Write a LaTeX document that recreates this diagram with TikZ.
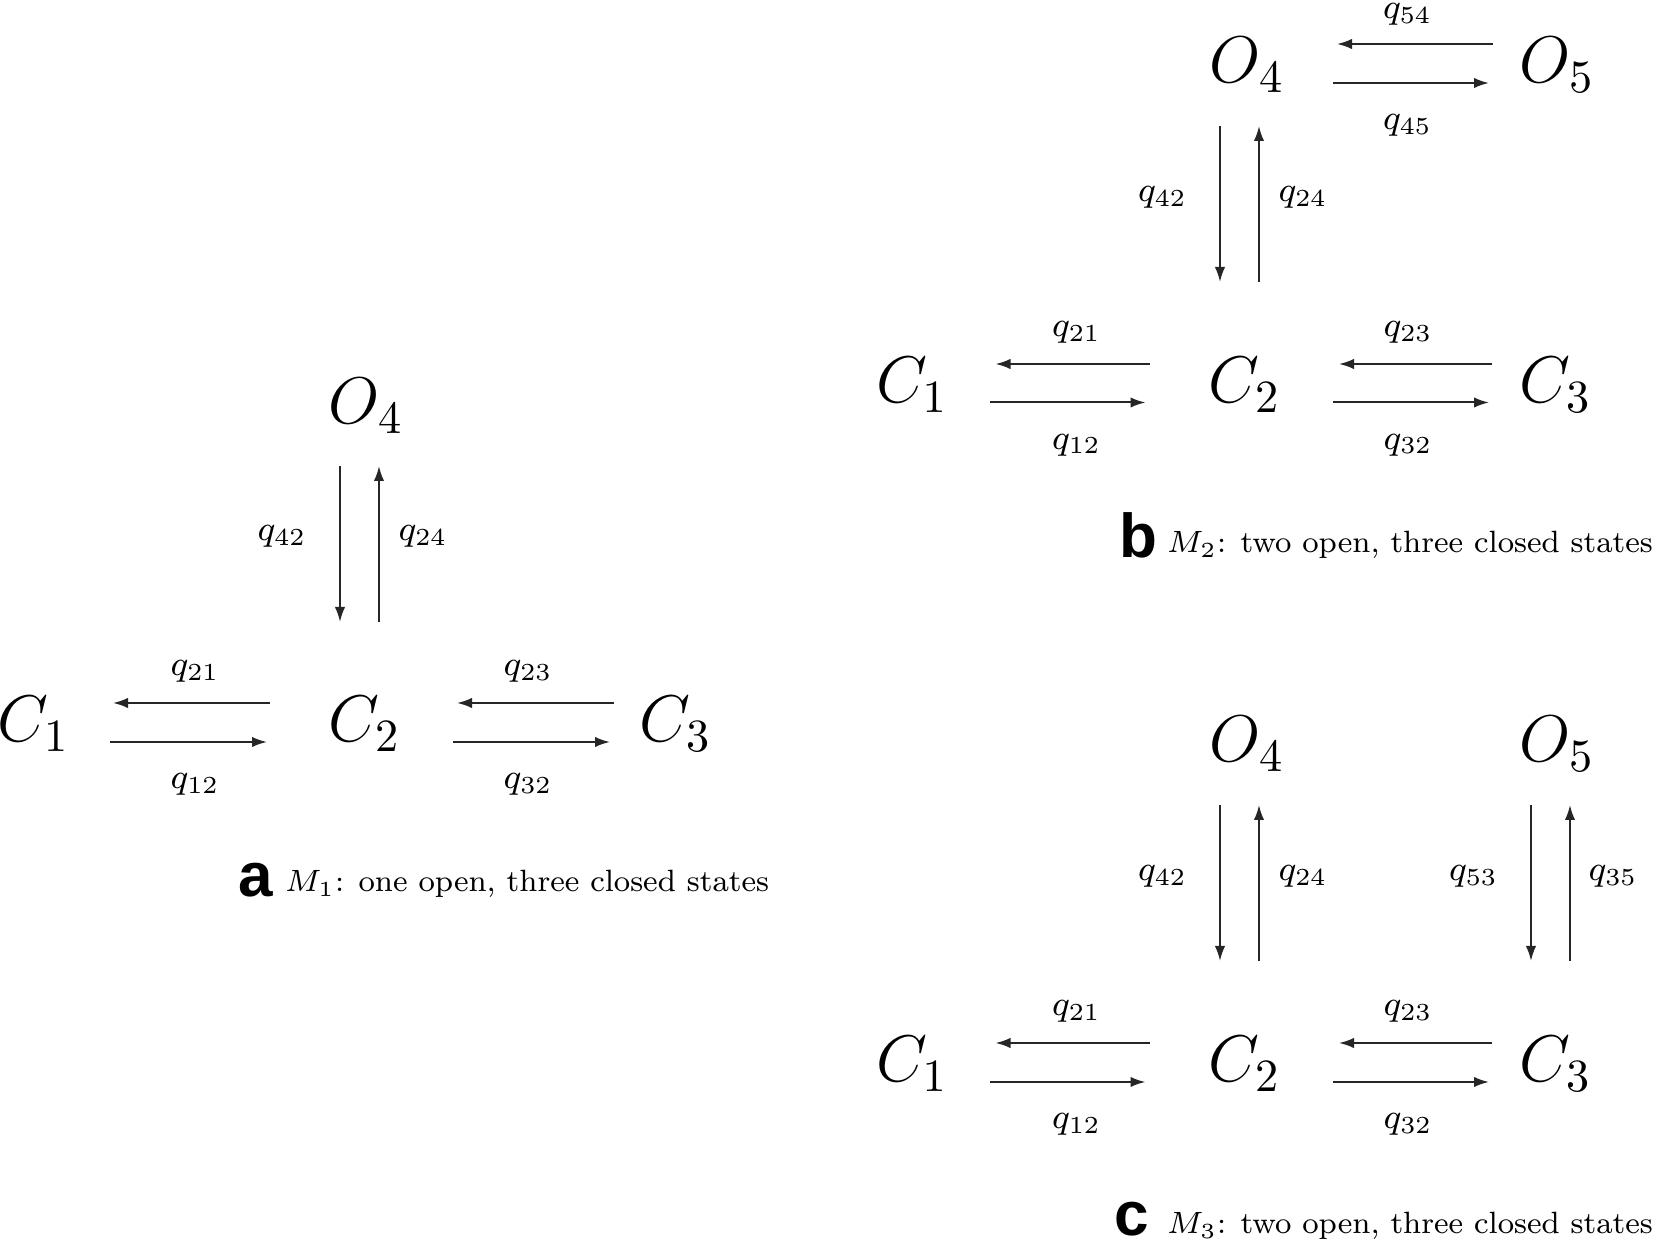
\RequirePackage{fix-cm}
\documentclass[tikz,border=0pt]{standalone}
\usepackage{fontspec}
\newfontfamily\labfont{Liberation Sans}
\usetikzlibrary{arrows.meta}
\tikzset{
  state/.style={anchor=base west, inner sep=0pt, font=\fontsize{16.5}{20}\selectfont},
  rate/.style={anchor=base, inner sep=0pt, font=\fontsize{8.75}{10}\selectfont},
  captext/.style={anchor=base west, inner sep=0pt, font=\fontsize{7.7}{10}\selectfont},
  panellab/.style={anchor=base west, inner sep=0pt, font=\labfont\bfseries\fontsize{15.5}{18}\selectfont},
  arr/.style={-{Latex[length=3.75pt,width=2.6pt]}, line width=0.5pt, draw=black!85}
}
\newcommand\tarrow[5]{% name, x1, y1, x2, y2
  \coordinate (#1s) at (#2,#3); \coordinate (#1e) at (#4,#5);
  \draw[arr] (#1s) -- (#1e);}
\begin{document}
\begin{tikzpicture}[x=0.25pt,y=-0.25pt]
\fill[white] (0,0) rectangle (1654,1251);
\useasboundingbox (0,0) rectangle (1654,1251);
% ---------- panel a ----------
\node[state] (aO4) at (328,424) {$O_4$};
\node[state] (aC1) at (-3,742) {$C_1$};
\node[state] (aC2) at (328,742) {$C_2$};
\node[state] (aC3) at (639,742) {$C_3$};
\tarrow{aq42}{340}{466}{340}{622}
\tarrow{aq24}{379}{622}{379}{466}
\tarrow{aq21}{270}{703}{113}{703}
\tarrow{aq12}{110}{742}{267}{742}
\tarrow{aq23}{614}{703}{457}{703}
\tarrow{aq32}{453}{742}{610}{742}
\node[rate] (alq42) at (282,541) {$q_{42}$};
\node[rate] (alq24) at (423,541) {$q_{24}$};
\node[rate] (alq21) at (195,676) {$q_{21}$};
\node[rate] (alq12) at (195,789) {$q_{12}$};
\node[rate] (alq23) at (528,676) {$q_{23}$};
\node[rate] (alq32) at (528,789) {$q_{32}$};
\node[panellab] (alab) at (238,897) {a};
\node[captext] (acap) at (284,892) {$M_1$: one open, three closed states};
% ---------- panel b ----------
\node[state] (bO4) at (1209,83) {$O_4$};
\node[state] (bO5) at (1519,83) {$O_5$};
\node[state] (bC1) at (875.5,402.5) {$C_1$};
\node[state] (bC2) at (1208,402.5) {$C_2$};
\node[state] (bC3) at (1519,402.5) {$C_3$};
\tarrow{bq54}{1493}{44}{1337}{44}
\tarrow{bq45}{1333}{83}{1489}{83}
\tarrow{bq42}{1220}{126}{1220}{282}
\tarrow{bq24}{1259}{282}{1259}{126}
\tarrow{bq21}{1150}{364}{995.5}{364}
\tarrow{bq12}{990}{402.5}{1145.5}{402.5}
\tarrow{bq23}{1492}{364}{1339}{364}
\tarrow{bq32}{1333}{402.5}{1489}{402.5}
\node[rate] (blq54) at (1407.5,19) {$q_{54}$};
\node[rate] (blq45) at (1407.5,130) {$q_{45}$};
\node[rate] (blq42) at (1162.5,202) {$q_{42}$};
\node[rate] (blq24) at (1303,202) {$q_{24}$};
\node[rate] (blq21) at (1076.5,337) {$q_{21}$};
\node[rate] (blq12) at (1076.5,449.5) {$q_{12}$};
\node[rate] (blq23) at (1408,337) {$q_{23}$};
\node[rate] (blq32) at (1408,449.5) {$q_{32}$};
\node[panellab] (blab) at (1119,558) {b};
\node[captext] (bcap) at (1166,553) {$M_2$: two open, three closed states};
% ---------- panel c ----------
\node[state] (cO4) at (1209,762) {$O_4$};
\node[state] (cO5) at (1519,762) {$O_5$};
\node[state] (cC1) at (875.5,1082) {$C_1$};
\node[state] (cC2) at (1208,1082) {$C_2$};
\node[state] (cC3) at (1519,1082) {$C_3$};
\tarrow{cq42}{1220}{805}{1220}{961}
\tarrow{cq24}{1259}{961}{1259}{805}
\tarrow{cq53}{1531}{805}{1531}{961}
\tarrow{cq35}{1570}{961}{1570}{805}
\tarrow{cq21}{1150}{1043}{995.5}{1043}
\tarrow{cq12}{990}{1082}{1145.5}{1082}
\tarrow{cq23}{1492}{1043}{1339}{1043}
\tarrow{cq32}{1333}{1082}{1489}{1082}
\node[rate] (clq42) at (1162.5,881) {$q_{42}$};
\node[rate] (clq24) at (1303,881) {$q_{24}$};
\node[rate] (clq53) at (1473.5,881) {$q_{53}$};
\node[rate] (clq35) at (1613,881) {$q_{35}$};
\node[rate] (clq21) at (1076.5,1016) {$q_{21}$};
\node[rate] (clq12) at (1076.5,1129) {$q_{12}$};
\node[rate] (clq23) at (1408,1016) {$q_{23}$};
\node[rate] (clq32) at (1408,1129) {$q_{32}$};
\node[panellab] (clab) at (1114,1236) {c};
\node[captext] (ccap) at (1166,1234) {$M_3$: two open, three closed states};
\end{tikzpicture}
\end{document}
